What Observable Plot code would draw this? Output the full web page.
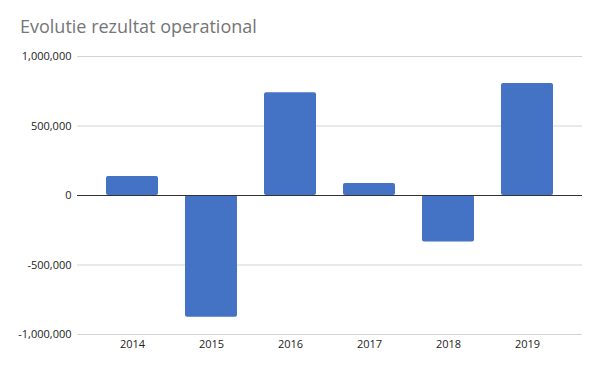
<!DOCTYPE html>
<html><head><meta charset="utf-8">
<script src="https://cdn.jsdelivr.net/npm/d3@7"></script>
<script src="https://cdn.jsdelivr.net/npm/@observablehq/plot@0.6"></script>
<style>
body{margin:0;background:#fff;width:600px;height:371px;overflow:hidden;}
#title{font-family:"Open Sans",sans-serif;font-size:18px;color:#757575;height:40px;box-sizing:border-box;padding:14px 0 0 20px;line-height:24px;white-space:nowrap;}
</style>
</head><body>
<div id="title">Evolutie rezultat operational</div>
<div id="chart"></div>
<script>
const years = ["2014","2015","2016","2017","2018","2019"];
const values = [137000, -875000, 740000, 86000, -335000, 805000];
const yTicks = [-1000000, -500000, 0, 500000, 1000000];

const data = years.map((y, i) => ({year: y, value: values[i]}));
const fmt = d => (d < 0 ? "-" : "") + d3.format(",")(Math.abs(d));

const chart = Plot.plot({
  width: 600,
  height: 331,
  marginTop: 16,
  marginBottom: 37,
  marginLeft: 77,
  marginRight: 18,
  style: {fontFamily: "Open Sans, sans-serif", fontSize: "11px", color: "#222", background: "#fff"},
  x: {domain: years, padding: 0.345, tickSize: 0, tickPadding: 6, label: null},
  y: {domain: [-1000000, 1000000], ticks: yTicks, tickFormat: fmt, tickSize: 0, tickPadding: 6, label: null},
  marks: [
    Plot.ruleY(yTicks.filter(d => d !== 0), {stroke: "#d3d3d3", strokeWidth: 1}),
    Plot.barY(data, {x: "year", y: "value", fill: "#4472C4", rx: 2}),
    Plot.ruleY([0], {stroke: "#333", strokeWidth: 1})
  ]
});
document.getElementById("chart").appendChild(chart);
</script>
</body></html>
